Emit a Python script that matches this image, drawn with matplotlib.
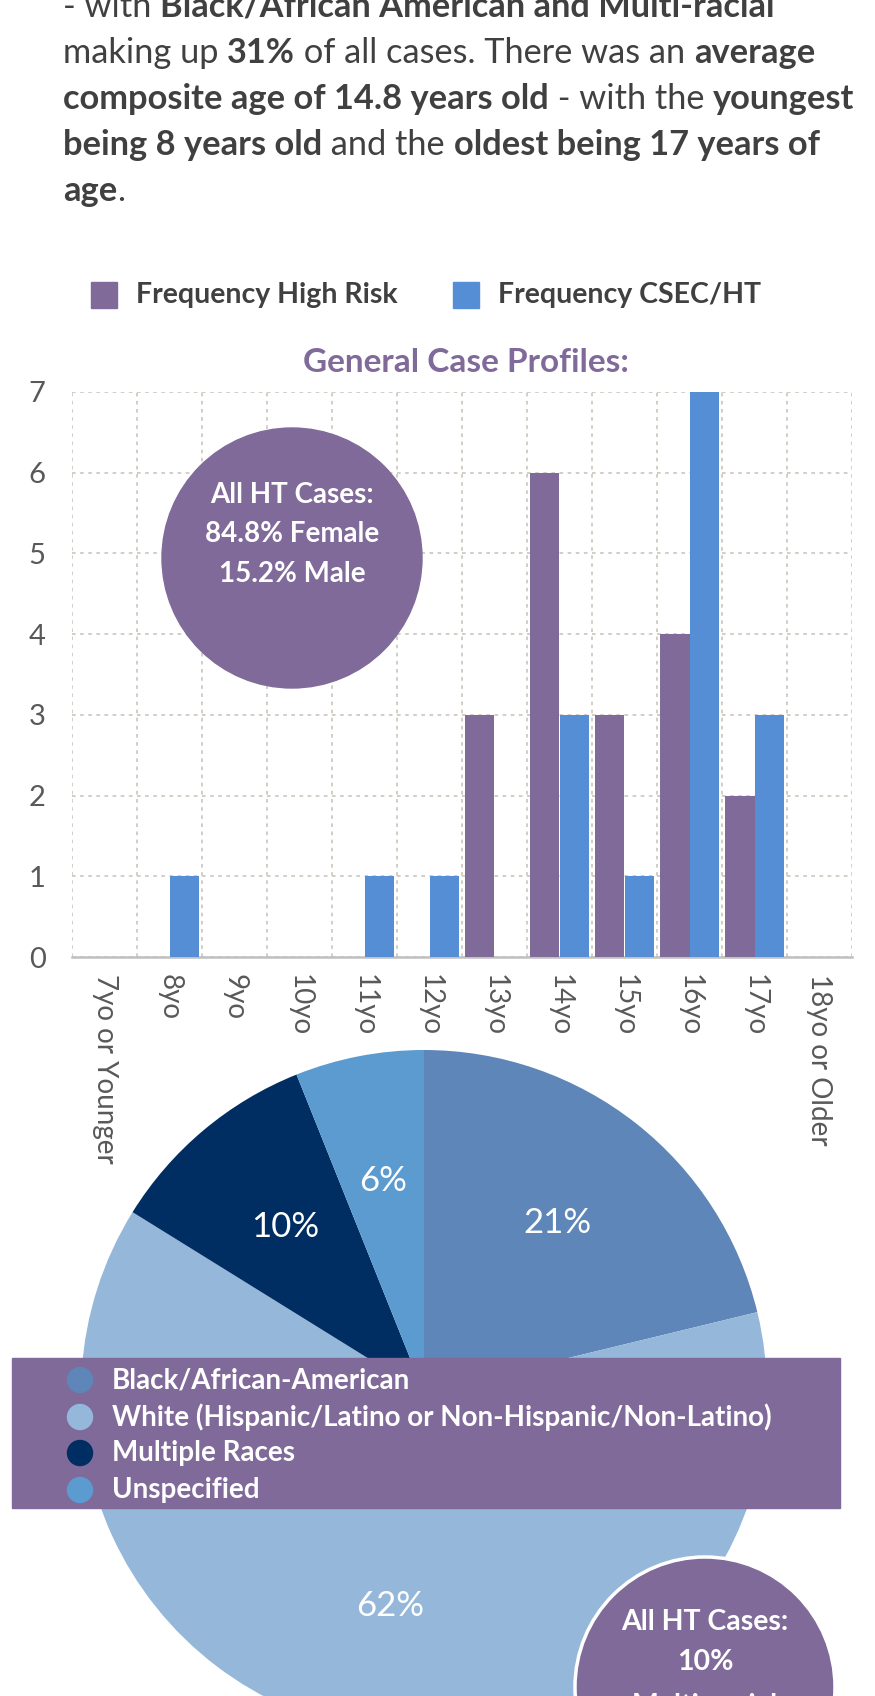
import numpy as np
import matplotlib.pyplot as plt
from matplotlib.patches import Rectangle, Circle

#%% Data

edades = ['7yo or Younger', '8yo', '9yo', '10yo', '11yo', '12yo', '13yo',
          '14yo', '15yo', '16yo', '17yo', '18yo or Older']
alto_riesgo = [0, 0, 0, 0, 0, 0, 3, 6, 3, 4, 2, 0]
csec_ht = [0, 1, 0, 0, 1, 1, 0, 3, 1, 7, 3, 0]

razas = ['Black/African-American',
         'White (Hispanic/Latino or Non-Hispanic/Non-Latino)',
         'Multiple Races', 'Unspecified']
porcentajes = [21, 62, 10, 6]

parrafo = [
    [('- with ', False), ('Black/African American and Multi-racial', True)],
    [('making up ', False), ('31%', True), (' of all cases. There was an ', False), ('average', True)],
    [('composite age of 14.8 years old', True), (' - with the ', False), ('youngest', True)],
    [('being 8 years old', True), (' and the ', False), ('oldest being 17 years of', True)],
    [('age', True), ('.', False)],
]
circulo_genero = ['All HT Cases:', '84.8% Female', '15.2% Male']
circulo_raza = ['All HT Cases:', '10%', 'Multi-racial']

#%% Style

W, H = 875, 1696
morado = '#7f6a99'
azul = '#558ed5'
gris = '#404040'
colores_pie = ['#5e86b9', '#95b8da', '#002d62', '#5b9bd0']

plt.rcParams['font.family'] = ['Lato', 'DejaVu Sans']

fig = plt.figure(figsize=(W / 100, H / 100), dpi=100)

#%% Bar chart

ax = fig.add_axes([72 / W, (H - 957) / H, 780 / W, 565 / H])
x = np.arange(len(edades))
ax.bar(x - 0.23, alto_riesgo, 0.46, color=morado, zorder=3)
ax.bar(x + 0.23, csec_ht, 0.46, color=azul, zorder=3)
ax.set_xlim(-0.5, len(edades) - 0.5)
ax.set_ylim(0, 7)
ax.set_yticks(range(8))
ax.set_xticks(x, edades, rotation=-90, va='top', ha='center')
ax.set_xticks(np.arange(-0.5, len(edades)), minor=True)
ax.tick_params(axis='both', which='both', length=0, colors='#595959')
ax.tick_params(axis='x', labelsize=20, pad=12)
ax.tick_params(axis='y', labelsize=21, pad=19)
ax.grid(axis='y', which='major', color='#cfc9c0', linestyle=(0, (2, 2.5)), lw=1.3, zorder=0)
ax.grid(axis='x', which='minor', color='#cfc9c0', linestyle=(0, (2, 2.5)), lw=1.3, zorder=0)
for s in ['top', 'right', 'left']:
    ax.spines[s].set_visible(False)
ax.spines['bottom'].set_color('#c0c0c0')
ax.spines['bottom'].set_linewidth(1.8)

#%% Pie chart

r = 343
ax_p = fig.add_axes([(424 - r) / W, (H - 1393 - r) / H, 2 * r / W, 2 * r / H])
cunas, _, autot = ax_p.pie(porcentajes, colors=colores_pie, startangle=90, counterclock=False,
                           autopct='%1.0f%%', pctdistance=0.63,
                           textprops=dict(color='white', fontsize=25))
for t, v in zip(autot, porcentajes):
    t.set_text('{}%'.format(v))
ax_p.set_xlim(-1, 1)
ax_p.set_ylim(-1, 1)
ax_p.axis('off')

#%% Overlay in pixel coordinates: text, legends, circles

ax_o = fig.add_axes([0, 0, 1, 1])
ax_o.set_xlim(0, W)
ax_o.set_ylim(H, 0)
ax_o.axis('off')
ax_o.patch.set_alpha(0)

rend = fig.canvas.get_renderer()


def ancho(s, size, negrita):
    # width of a string, keeping trailing spaces
    t1 = ax_o.text(0, 0, s + '|', fontsize=size, fontweight='bold' if negrita else 'normal')
    t2 = ax_o.text(0, 0, '|', fontsize=size, fontweight='bold' if negrita else 'normal')
    w = t1.get_window_extent(rend).width - t2.get_window_extent(rend).width
    t1.remove()
    t2.remove()
    return w


# fit the paragraph size to the width of the third line
base = 20
w3 = sum(ancho(s, base, b) for s, b in parrafo[2])
size_p = base * 792 / w3

bases = [17, 63, 109, 155, 201]
for linea, yb in zip(parrafo, bases):
    xc = 63
    for s, b in linea:
        ax_o.text(xc, yb, s, fontsize=size_p, fontweight='bold' if b else 'normal',
                  color=gris, va='baseline', ha='left')
        xc += ancho(s, size_p, b)

# bar legend
for xs, etiqueta, col in [(91, 'Frequency High Risk', morado), (453, 'Frequency CSEC/HT', azul)]:
    ax_o.add_patch(Rectangle((xs, 282), 26, 26, color=col))
    ax_o.text(xs + 45, 295, etiqueta, fontsize=20.5, fontweight='bold', color=gris,
              va='center', ha='left')

ax_o.text(466, 362, 'General Case Profiles:', fontsize=24, fontweight='bold', color=morado,
          va='center', ha='center')

# gender circle
ax_o.add_patch(Circle((292, 558), 130, color=morado))
for s, yy in zip(circulo_genero, [495, 534, 574]):
    ax_o.text(292, yy, s, fontsize=20, fontweight='bold', color='white', va='center', ha='center')

# pie legend box
ax_o.add_patch(Rectangle((12, 1358), 828, 150, color=morado))
for s, col, yy in zip(razas, colores_pie, [1380, 1417, 1453, 1490]):
    ax_o.add_patch(Circle((80, yy), 12.5, color=col))
    ax_o.text(112, yy, s, fontsize=20, fontweight='bold', color='white', va='center', ha='left')

# race circle
ax_o.add_patch(Circle((705, 1687), 130, fc=morado, ec='white', lw=2.5))
for s, yy in zip(circulo_raza, [1622, 1662, 1706]):
    ax_o.text(705, yy, s, fontsize=20.5, fontweight='bold', color='white', va='center', ha='center')

fig.savefig('out.png', dpi=100)
